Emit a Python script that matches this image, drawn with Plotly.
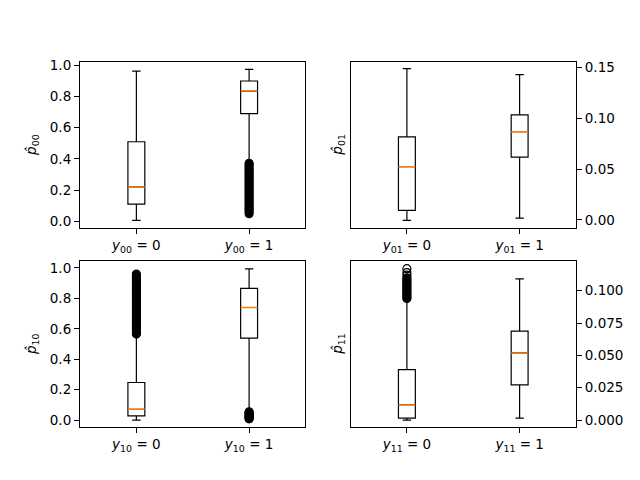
import plotly.graph_objects as go

# box statistics: [y=0 group, y=1 group]
panels = ['00', '01', '10', '11']

lower = {'00': [0.005, 0.37], '01': [-0.0006, 0.0017],
         '10': [0.0, 0.05], '11': [0.0, 0.0015]}
q1 = {'00': [0.11, 0.69], '01': [0.0092, 0.0617],
      '10': [0.028, 0.539], '11': [0.0015, 0.0272]}
median = {'00': [0.22, 0.835], '01': [0.0524, 0.0868],
          '10': [0.071, 0.740], '11': [0.0115, 0.0519]}
q3 = {'00': [0.51, 0.90], '01': [0.0818, 0.1034],
      '10': [0.247, 0.865], '11': [0.039, 0.0687]}
upper = {'00': [0.963, 0.975], '01': [0.149, 0.1432],
         '10': [0.56, 0.994], '11': [0.093, 0.1092]}

# outliers, estimated from the dense black bands (drawn overlapping -> solid)
fliers = {
    '00': [[], [0.048, 0.06, 0.07, 0.08, 0.09, 0.10, 0.11, 0.12, 0.13, 0.14, 0.15, 0.16,
                0.17, 0.18, 0.19, 0.20, 0.21, 0.22, 0.23, 0.24, 0.25, 0.26, 0.27, 0.28,
                0.29, 0.30, 0.31, 0.32, 0.33, 0.34, 0.35, 0.36, 0.372]],
    '01': [[], []],
    '10': [[0.565, 0.575, 0.585, 0.60, 0.61, 0.62, 0.63, 0.64, 0.65, 0.66, 0.67, 0.68,
            0.69, 0.70, 0.71, 0.72, 0.73, 0.74, 0.75, 0.76, 0.77, 0.78, 0.79, 0.80,
            0.81, 0.82, 0.83, 0.84, 0.85, 0.86, 0.87, 0.88, 0.89, 0.90, 0.91, 0.92,
            0.93, 0.94, 0.95, 0.96],
           [0.008, 0.012, 0.016, 0.02, 0.025, 0.03, 0.035, 0.04, 0.045, 0.05, 0.055]],
    '11': [[0.094, 0.095, 0.096, 0.097, 0.098, 0.099, 0.100, 0.101, 0.102, 0.103,
            0.104, 0.105, 0.106, 0.107, 0.108, 0.109, 0.110], []],
}
# a few isolated outliers at the top of the y11 = 0 band
fliers_sparse = {'00': [[], []], '01': [[], []], '10': [[], []],
                 '11': [[0.112, 0.114, 0.117], []]}

y_ranges = {'00': [-0.043, 1.022], '01': [-0.008, 0.1556],
            '10': [-0.045, 1.045], '11': [-0.0053, 0.1229]}
y_ticks = {'00': [0.0, 0.2, 0.4, 0.6, 0.8, 1.0], '01': [0.0, 0.05, 0.10, 0.15],
           '10': [0.0, 0.2, 0.4, 0.6, 0.8, 1.0], '11': [0.0, 0.025, 0.05, 0.075, 0.1]}
y_fmt = {'00': '.1f', '01': '.2f', '10': '.1f', '11': '.3f'}

positions = [1, 2]
box_w = 0.15
font = dict(family='DejaVu Sans', size=13.5, color='black')

# page body has an 8px margin; shift the axes to compensate
dx, dy = 8 / 640, 8 / 480
x_domains = [[0.125 - dx, 0.4773 - dx], [0.5477 - dx, 0.9 - dx]]
y_domains = [[0.53 + dy, 0.88 + dy], [0.11 + dy, 0.46 + dy]]

fig = go.Figure()
layout = dict(width=640, height=480, margin=dict(l=0, r=0, t=0, b=0),
              paper_bgcolor='white', plot_bgcolor='white', showlegend=False,
              font=font, annotations=[])

for i, p in enumerate(panels):
    row, col = divmod(i, 2)
    n = '' if i == 0 else str(i + 1)
    xa, ya = 'x' + n, 'y' + n
    for j, pos in enumerate(positions):
        fig.add_trace(go.Box(
            x=[pos], q1=[q1[p][j]], median=[median[p][j]], q3=[q3[p][j]],
            lowerfence=[lower[p][j]], upperfence=[upper[p][j]],
            width=box_w, whiskerwidth=0.5, boxpoints=False,
            fillcolor='rgba(0,0,0,0)', line=dict(color='black', width=1.2),
            xaxis=xa, yaxis=ya, hoverinfo='skip'))
        fig.add_trace(go.Scatter(
            x=[pos - box_w / 2, pos + box_w / 2], y=[median[p][j]] * 2,
            mode='lines', line=dict(color='#ff7f0e', width=1.5),
            xaxis=xa, yaxis=ya, hoverinfo='skip'))
        if fliers[p][j]:
            fig.add_trace(go.Scatter(
                x=[pos] * len(fliers[p][j]), y=fliers[p][j], mode='markers',
                marker=dict(symbol='circle', size=8, color='black',
                            line=dict(width=1.1, color='black')),
                xaxis=xa, yaxis=ya, hoverinfo='skip'))
        if fliers_sparse[p][j]:
            fig.add_trace(go.Scatter(
                x=[pos] * len(fliers_sparse[p][j]), y=fliers_sparse[p][j], mode='markers',
                marker=dict(symbol='circle-open', size=8, color='black',
                            line=dict(width=1.2, color='black')),
                xaxis=xa, yaxis=ya, hoverinfo='skip'))

    axis_common = dict(showline=True, linecolor='black', linewidth=1.1, mirror=True,
                       ticks='outside', ticklen=5, tickcolor='black', tickwidth=1.1,
                       showgrid=False, zeroline=False, tickfont=font)
    layout['xaxis' + n] = dict(axis_common, domain=x_domains[col], range=[0.5, 2.5],
                               anchor=ya, tickvals=positions,
                               ticktext=['<i>y</i><sub>%s</sub> = 0' % p,
                                         '<i>y</i><sub>%s</sub> = 1' % p])
    layout['yaxis' + n] = dict(axis_common, domain=y_domains[row], range=y_ranges[p],
                               anchor=xa, tickvals=y_ticks[p], tickformat=y_fmt[p],
                               side='right' if col == 1 else 'left')
    lab_x = x_domains[col][0] - (0.075 if col == 0 else 0.02)
    layout['annotations'].append(dict(
        text='<i>p\u0302</i><sub>%s</sub>' % p, textangle=-90, showarrow=False,
        xref='paper', yref='paper', x=lab_x, y=sum(y_domains[row]) / 2,
        xanchor='center', yanchor='middle', font=font))

fig.update_layout(**layout)
fig.write_html('out.html')
